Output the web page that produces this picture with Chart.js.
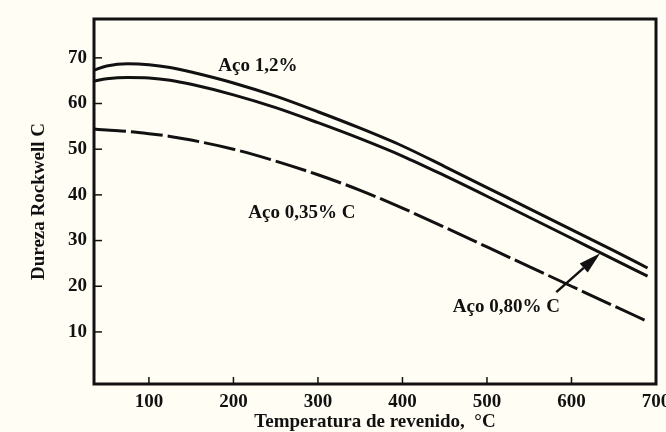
<!DOCTYPE html>
<html>
<head>
<meta charset="utf-8">
<script src="https://cdn.jsdelivr.net/npm/chart.js@4"></script>
<style>
  html, body { margin: 0; padding: 0; background: #fffdf4; }
  #graficoDureza { display: block; }
</style>
</head>
<body>
<canvas id="graficoDureza" width="666" height="432"></canvas>
<script>
// valores (temperatura em °C, dureza HRC)
const temperaturas = [35, 50, 75, 100, 125, 150, 200, 250, 300, 350, 400, 450, 500, 550, 600, 650, 690];
const aco12 = [67.3, 68.2, 68.7, 68.5, 67.9, 66.9, 64.5, 61.6, 58.2, 54.6, 50.7, 46.2, 41.6, 37.0, 32.4, 27.8, 24.0];
const aco080 = [64.9, 65.4, 65.7, 65.6, 65.1, 64.2, 61.9, 59.1, 55.8, 52.3, 48.5, 44.2, 39.7, 35.1, 30.5, 25.9, 22.2];
const aco035 = [54.4, 54.2, 53.9, 53.4, 52.8, 52.0, 50.0, 47.4, 44.4, 41.0, 37.1, 32.9, 28.6, 24.3, 20.0, 15.7, 12.3];

const ticksX = [100, 200, 300, 400, 500, 600, 700];
const ticksY = [10, 20, 30, 40, 50, 60, 70];

const rotulos = [
    { texto: "Aço 1,2%", x: 229, y: 68.2 },
    { texto: "Aço 0,35% C", x: 281, y: 36 },
    { texto: "Aço 0,80% C", x: 523, y: 15.4 }
];
const seta = { de: [582, 18.7], para: [634, 27.2] };

const fonte = "'Liberation Serif', 'Times New Roman', serif";
const tinta = "#111";

const pontos = ys => temperaturas.map((t, i) => ({ x: t, y: ys[i] }));

const fundo = {
    id: "fundo",
    beforeDraw(chart) {
        const ctx = chart.ctx;
        ctx.save();
        ctx.fillStyle = "#fffdf4";
        ctx.fillRect(0, 0, chart.width, chart.height);
        ctx.restore();
    }
};

const moldura = {
    id: "moldura",
    afterDraw(chart) {
        const { ctx, chartArea: a, scales } = chart;
        ctx.save();
        ctx.strokeStyle = tinta;
        // marcas para dentro
        ctx.lineWidth = 1.5;
        ticksY.forEach(v => {
            const y = scales.y.getPixelForValue(v);
            ctx.beginPath();
            ctx.moveTo(a.left, y);
            ctx.lineTo(a.left + 8, y);
            ctx.stroke();
        });
        ticksX.forEach(v => {
            const x = scales.x.getPixelForValue(v);
            ctx.beginPath();
            ctx.moveTo(x, a.bottom);
            ctx.lineTo(x, a.bottom - 7);
            ctx.stroke();
        });
        ctx.lineWidth = 3;
        ctx.strokeRect(a.left, a.top, a.right - a.left, a.bottom - a.top);

        // textos
        ctx.fillStyle = tinta;
        ctx.font = "bold 19px " + fonte;
        ctx.textAlign = "center";
        ctx.textBaseline = "middle";
        rotulos.forEach(r => {
            ctx.fillText(r.texto, scales.x.getPixelForValue(r.x), scales.y.getPixelForValue(r.y));
        });

        // seta
        const x0 = scales.x.getPixelForValue(seta.de[0]), y0 = scales.y.getPixelForValue(seta.de[1]);
        const x1 = scales.x.getPixelForValue(seta.para[0]), y1 = scales.y.getPixelForValue(seta.para[1]);
        const ang = Math.atan2(y1 - y0, x1 - x0);
        const comp = 22, larg = 6;
        const bx = x1 - comp * Math.cos(ang), by = y1 - comp * Math.sin(ang);
        ctx.lineWidth = 2.5;
        ctx.beginPath();
        ctx.moveTo(x0, y0);
        ctx.lineTo(bx, by);
        ctx.stroke();
        ctx.beginPath();
        ctx.moveTo(x1, y1);
        ctx.lineTo(bx + larg * Math.sin(ang), by - larg * Math.cos(ang));
        ctx.lineTo(bx - larg * Math.sin(ang), by + larg * Math.cos(ang));
        ctx.closePath();
        ctx.fill();
        ctx.restore();
    }
};

const ctx = document.getElementById("graficoDureza").getContext("2d");
new Chart(ctx, {
    type: "line",
    data: {
        datasets: [
            { label: "Aço 1,2%", data: pontos(aco12), borderColor: tinta, borderWidth: 3 },
            { label: "Aço 0,80% C", data: pontos(aco080), borderColor: tinta, borderWidth: 3 },
            { label: "Aço 0,35% C", data: pontos(aco035), borderColor: tinta, borderWidth: 3, borderDash: [32, 5] }
        ]
    },
    options: {
        responsive: false,
        animation: false,
        layout: { padding: { top: 19, right: 10, left: 0, bottom: 0 } },
        elements: {
            point: { radius: 0 },
            line: { cubicInterpolationMode: "monotone", fill: false }
        },
        plugins: { legend: { display: false }, tooltip: { enabled: false } },
        scales: {
            x: {
                type: "linear",
                min: 35,
                max: 700,
                afterBuildTicks: s => { s.ticks = ticksX.map(v => ({ value: v })); },
                afterFit: s => { s.height = 48; s.paddingRight = 0; s.paddingLeft = 0; },
                grid: { display: false, drawTicks: false },
                border: { display: false },
                ticks: { color: tinta, padding: 7, font: { family: fonte, size: 19, weight: "bold" } },
                title: {
                    display: true,
                    text: "Temperatura de revenido,  °C",
                    color: tinta,
                    padding: { top: 0, bottom: 0 },
                    font: { family: fonte, size: 19, weight: "bold", lineHeight: 1 }
                }
            },
            y: {
                min: -1.4,
                max: 78.5,
                afterBuildTicks: s => { s.ticks = ticksY.map(v => ({ value: v })); },
                afterFit: s => { s.width = 94; },
                grid: { display: false, drawTicks: false },
                border: { display: false },
                ticks: { color: tinta, padding: 7, font: { family: fonte, size: 19, weight: "bold" } },
                title: {
                    display: true,
                    text: "Dureza Rockwell C",
                    color: tinta,
                    padding: { top: 30, bottom: 0 },
                    font: { family: fonte, size: 19, weight: "bold", lineHeight: 1 }
                }
            }
        }
    },
    plugins: [fundo, moldura]
});
</script>
</body>
</html>
